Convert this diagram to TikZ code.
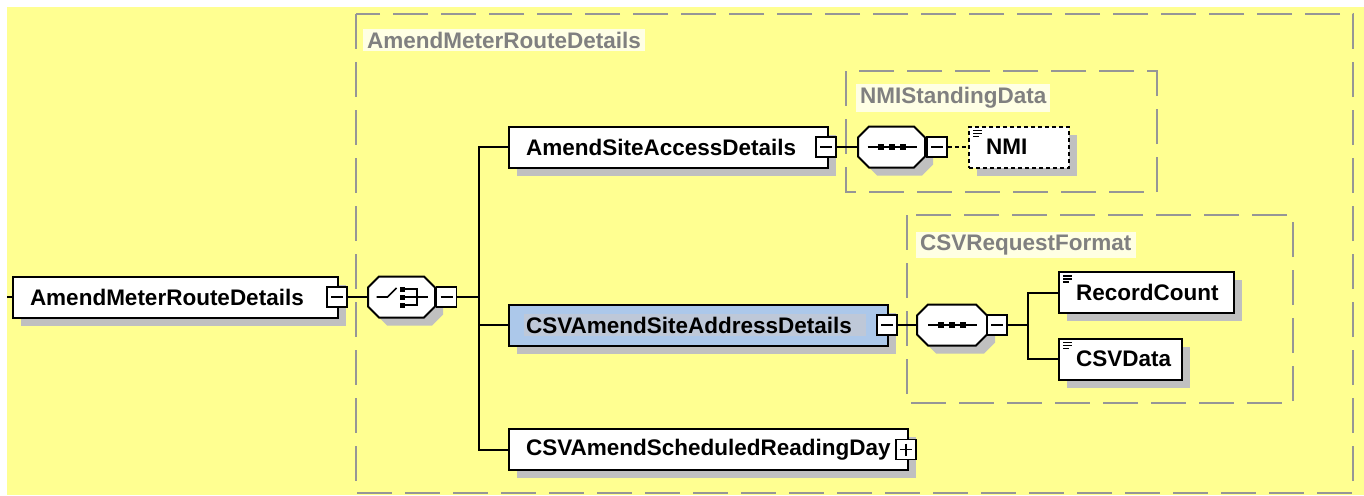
\documentclass[tikz,border=0pt]{standalone}
\usepackage{fontspec}
\setmainfont{Liberation Sans}
\usetikzlibrary{calc,shadows}

\definecolor{bgyellow}{RGB}{255,255,145}
\definecolor{framegray}{RGB}{150,150,150}
\definecolor{shadowgray}{RGB}{192,192,192}
\definecolor{labelbg}{RGB}{255,255,228}
\definecolor{labelgray}{RGB}{128,128,128}
\definecolor{selblue}{RGB}{172,200,234}
\definecolor{selgray}{RGB}{190,200,216}

\newcommand\octpath[2]{($(#1.north west)+(11+#2,#2)$) -- ($(#1.north east)+(-11+#2,#2)$) -- ($(#1.north east)+(#2,11+#2)$) -- ($(#1.south east)+(#2,-11+#2)$) -- ($(#1.south east)+(-11+#2,#2)$) -- ($(#1.south west)+(11+#2,#2)$) -- ($(#1.south west)+(#2,-11+#2)$) -- ($(#1.north west)+(#2,11+#2)$) -- cycle}
\newcommand\drawoct[1]{%
  \fill[shadowgray] \octpath{#1}{8};
  \draw[line width=2pt,fill=white] \octpath{#1}{0};}

\tikzset{
  ftext/.style={font=\bfseries\fontsize{22.5}{26}\selectfont},
  elem/.style={ftext, draw=black, line width=2pt, fill=white, rectangle,
    minimum height=41pt, inner ysep=0pt, inner xsep=17pt, align=left, anchor=west,
    drop shadow={shadow xshift=8pt, shadow yshift=-8pt, fill=shadowgray, opacity=1}},
  icon/.style={path picture={
    \draw[line width=1.2pt, solid]
      ([shift={(4pt,-4pt)}]path picture bounding box.north west) -- ++(9pt,0pt)
      ([shift={(4pt,-7pt)}]path picture bounding box.north west) -- ++(9pt,0pt)
      ([shift={(4pt,-10pt)}]path picture bounding box.north west) -- ++(6pt,0pt);}},
  selected/.style={fill=selblue, path picture={
    \fill[selgray] ([shift={(15pt,11pt)}]path picture bounding box.west)
      rectangle ([shift={(-22pt,-11pt)}]path picture bounding box.east);}},
  optional/.style={dash pattern=on 4pt off 3pt},
  comp/.style={draw=none, rectangle, inner sep=0pt, outer sep=0pt, minimum height=41pt},
  pm/.style={draw=black, line width=1.8pt, fill=white, rectangle, inner sep=0pt,
    minimum size=20pt, path picture={
    \draw[line width=1.5pt] ([xshift=4pt]path picture bounding box.west)
      -- ([xshift=-4pt]path picture bounding box.east);}},
  sym/.style={line width=1.6pt},
  conn/.style={draw=black, line width=2pt},
  frame/.style={draw=framegray, line width=2.5pt, dash pattern=on 35pt off 13pt},
  lbl/.style={ftext, text=labelgray, fill=labelbg, inner xsep=4pt, inner ysep=3pt, anchor=west}
}

\begin{document}
\begin{tikzpicture}[x=1pt,y=-1pt]
\useasboundingbox (0,0) rectangle (1364,495);
\fill[bgyellow] (7,7) rectangle (1364,495);

% group frames
\draw[frame] (356,14) rectangle (1353,493);
\draw[frame] (846,71) rectangle (1157,192);
\draw[frame] (907,215) rectangle (1293,403);

% group labels
\node[lbl] (lOuter) at (363,40) {AmendMeterRouteDetails};
\node[lbl] (lNMI) at (856,98) {NMIStandingData};
\node[lbl] (lCSV) at (916,245) {CSVRequestFormat};

% elements
\node[elem, text width=291pt] (R) at (12,297) {AmendMeterRouteDetails};
\node[elem, text width=285pt] (A) at (508,147) {AmendSiteAccessDetails};
\node[elem, selected, text width=345pt] (B) at (508,325) {CSVAmendSiteAddressDetails};
\node[elem, text width=365pt] (D) at (508,449.5) {CSVAmendScheduledReadingDay};
\node[elem, optional, icon, text width=66pt] (N) at (968,147) {NMI};
\node[elem, icon, text width=141pt] (RC) at (1058,292.5) {RecordCount};
\node[elem, icon, text width=89pt] (CD) at (1058,359) {CSVData};

% compositors
\node[comp, minimum width=67pt] (C) at (401.5,297) {};
\drawoct{C}
\draw[sym] ($(C)+(-25,0)$) -- ++(11,0) -- ++(9,-9);
\foreach \dy in {-10.5,-2.5,5.5} \fill ($(C)+(-1.5,\dy)$) rectangle ++(5,5);
\draw[sym] ($(C)+(3.5,-8)$) -- ++(12,0) -- ++(0,16) -- ++(-12,0);
\draw[sym] ($(C)+(3.5,0)$) -- ++(23,0);

\node[comp, minimum width=67pt] (S1) at (891.5,147) {};
\drawoct{S1}
\draw[sym] ($(S1)+(-24,0)$) -- ++(49,0);
\foreach \dx in {-14,-3,8} \fill ($(S1)+(\dx,-3)$) rectangle ++(6,6);

\node[comp, minimum width=70pt] (S2) at (952,325) {};
\drawoct{S2}
\draw[sym] ($(S2)+(-24,0)$) -- ++(49,0);
\foreach \dx in {-14,-3,8} \fill ($(S2)+(\dx,-3)$) rectangle ++(6,6);

% expand / collapse boxes
\node[pm] (mR) at (337,297) {};
\node[pm] (mC) at (446.5,297) {};
\node[pm] (mA) at (826,147) {};
\node[pm] (mS1) at (937,147) {};
\node[pm] (mB) at (887,325) {};
\node[pm] (mS2) at (997,325) {};
\node[pm, path picture={
    \draw[line width=1.5pt] ([xshift=4pt]path picture bounding box.west)
      -- ([xshift=-4pt]path picture bounding box.east);
    \draw[line width=1.5pt] ([yshift=-4pt]path picture bounding box.north)
      -- ([yshift=4pt]path picture bounding box.south);}] (pD) at (906,449.5) {};

% connectors
\coordinate (start) at (7,297);
\coordinate (tr) at (479,297);
\coordinate (br) at (1028,325);
\draw[conn] (start) -- (R.west);
\draw[conn] (mR.east) -- (C.west);
\draw[conn] (mC.east) -- (tr);
\draw[conn] (A.west) -| (D.west -| tr) -- (D.west);
\draw[conn] (B.west -| tr) -- (B.west);
\draw[conn] (mA.east) -- (S1.west);
\draw[conn, dash pattern=on 4pt off 3pt] (mS1.east) -- (N.west);
\draw[conn] (mB.east) -- (S2.west);
\draw[conn] (mS2.east) -- (br);
\draw[conn] (RC.west) -| (CD.west -| br) -- (CD.west);
\end{tikzpicture}
\end{document}
